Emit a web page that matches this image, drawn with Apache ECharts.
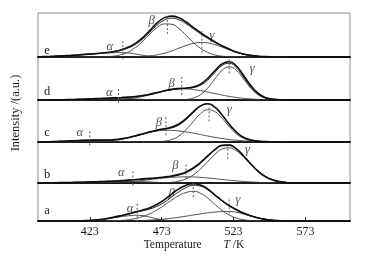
<!DOCTYPE html>
<html>
<head>
<meta charset="utf-8">
<script src="https://cdn.jsdelivr.net/npm/echarts@6/dist/echarts.min.js"></script>
<style>html,body{margin:0;padding:0;background:#fff}#main{width:372px;height:259px}</style>
</head>
<body>
<div id="main"></div>
<script>
// temperature grid (K) shared by all curves
var temps = [390,395,400,405,410,415,420,425,430,435,440,445,450,455,460,465,470,475,480,485,490,495,500,505,510,515,520,525,530,535,540,545,550,555,560];
var tickValues = [423, 473, 523, 573];

// panel e
var ePeaks = [446, 477, 501];
var eMeas  = [0.8,1.2,1.9,2.7,3.6,4.7,5.9,7.1,8.5,10.2,12.6,16.6,22.6,31.6,44.6,61.2,78.0,89.5,93.0,89.0,79.5,67.5,55.6,44.6,34.8,25.8,18.0,11.5,6.8,3.7,1.8,0.8,0.3,0.1,0];
var eFit   = [0.8,1.2,1.8,2.6,3.5,4.6,5.8,7.0,8.4,9.9,12.0,15.6,21.0,29.3,41.3,56.8,72.7,84.1,88.2,84.6,75.5,64.0,52.7,42.3,32.9,24.4,17.0,10.9,6.4,3.5,1.7,0.8,0.3,0.1,0];
var eAlpha = [0.8,1.2,1.8,2.6,3.5,4.6,5.8,7.0,8.1,9.1,9.7,10,9.2,6.7,3.8,1.6,0.6,0.1,0,0,0,0,0,0,0,0,0,0,0,0,0,0,0,0,0];
var eBeta  = [0,0,0,0,0,0,0,0,0.3,0.8,2.3,5.6,11.8,22.1,36.3,52.6,67.1,75.2,74.3,64.6,49.4,33.2,19.7,10.3,4.7,1.9,0.7,0.2,0,0,0,0,0,0,0];
var eGamma = [0,0,0,0,0,0,0,0,0,0,0,0,0,0.5,1.2,2.6,5.0,8.8,13.9,20.0,26.1,30.8,33.0,32.0,28.2,22.5,16.3,10.7,6.4,3.5,1.7,0.8,0.3,0.1,0];

// panel d
var dPeaks = [443, 487, 520];
var dMeas  = [0.1,0.2,0.4,0.7,1.0,1.5,2.1,2.8,3.4,4.2,5.0,5.8,6.8,8.2,10.4,13.6,17.5,21.5,24.8,26.8,28.0,30.4,37.0,50.0,68.0,84.0,89.0,79.0,57.0,33.5,15.8,6.0,2.0,0.6,0.2];
var dFit   = [0.1,0.2,0.4,0.7,1.0,1.5,2.1,2.8,3.4,4.1,4.9,5.6,6.5,7.8,9.9,13.0,16.9,20.9,24.2,26.1,27.1,28.8,34.3,46.3,64.0,80.4,85.4,74.7,52.7,30.1,13.9,5.3,1.7,0.5,0.2];
var dAlpha = [0.1,0.2,0.4,0.7,1.0,1.5,2.1,2.7,3.2,3.7,4.0,3.9,3.4,2.4,1.5,0.7,0.3,0.1,0,0,0,0,0,0,0,0,0,0,0,0,0,0,0,0,0];
var dBeta  = [0,0,0,0,0,0,0,0.1,0.2,0.4,0.9,1.7,3.1,5.4,8.4,12.3,16.6,20.8,24.1,25.8,25.8,24.3,21.8,18.6,15.1,11.6,8.4,5.9,3.8,2.4,1.4,0.8,0.4,0.2,0.1];
var dGamma = [0,0,0,0,0,0,0,0,0,0,0,0,0,0,0,0,0,0,0.1,0.3,1.3,4.5,12.5,27.7,48.9,68.8,77,68.8,48.9,27.7,12.5,4.5,1.3,0.3,0.1];

// panel c
var cPeaks = [423, 476, 506];
var cMeas  = [0.4,0.7,1.2,1.9,2.7,3.6,4.1,4.4,4.6,4.7,5.6,7.5,10.8,15.0,19.8,24.3,28.3,31.6,35.5,43.0,55.5,71.5,86.0,91.0,83.0,64.5,42.5,23.5,11.0,4.8,2.0,0.9,0.5,0.2,0.1];
var cFit   = [0.4,0.7,1.2,1.9,2.7,3.6,4.1,4.4,4.5,4.5,5.3,7.1,10.2,14.3,18.9,23.3,27.1,30.0,33.5,40.7,53.2,69.8,85.0,91.0,83.6,65.0,42.7,23.8,11.4,4.9,2.1,0.9,0.5,0.2,0.1];
var cAlpha = [0.4,0.7,1.2,1.9,2.7,3.5,3.9,3.9,3.4,2.4,1.5,0.7,0.3,0.1,0,0,0,0,0,0,0,0,0,0,0,0,0,0,0,0,0,0,0,0,0];
var cBeta  = [0,0,0,0,0,0.1,0.2,0.5,1.1,2.1,3.8,6.4,9.9,14.2,18.9,23.2,26.5,28.0,27.6,26.2,23.9,21.0,17.7,14.3,11.1,8.3,5.9,4.1,2.7,1.7,1.1,0.6,0.4,0.2,0.1];
var cGamma = [0,0,0,0,0,0,0,0,0,0,0,0,0,0,0,0.1,0.6,2.0,5.9,14.5,29.3,48.8,67.3,76.7,72.5,56.7,36.8,19.7,8.7,3.2,1.0,0.3,0.1,0,0];

// panel b
var bPeaks = [453, 490, 519];
var bMeas  = [0.4,0.5,0.7,1.0,1.3,1.7,2.1,2.7,3.3,4.0,4.8,5.9,7.1,8.6,10.0,11.3,12.9,14.6,17.2,21.0,27.0,36.5,50.0,66.0,81.5,91.8,92.5,83.0,66.0,46.5,29.0,16.0,7.9,3.5,1.3];
var bFit   = [0.4,0.5,0.7,1.0,1.3,1.6,2.0,2.6,3.1,3.8,4.6,5.6,6.8,8.2,9.5,10.7,12.2,13.7,16.0,19.4,25.2,34.5,48.0,64.5,80.5,91.3,92.7,83.6,66.8,47.3,29.6,16.4,8.1,3.6,1.4];
var bAlpha = [0.4,0.5,0.7,1.0,1.3,1.6,1.9,2.3,2.6,2.9,3.2,3.4,3.5,3.5,3.1,2.4,1.7,1.0,0.5,0.3,0.1,0,0,0,0,0,0,0,0,0,0,0,0,0,0];
var bBeta  = [0,0,0,0,0,0,0.1,0.3,0.5,0.9,1.4,2.2,3.3,4.7,6.4,8.3,10.3,12.1,13.7,14.6,15,14.7,13.8,12.3,10.6,8.7,6.9,5.2,3.7,2.6,1.7,1.1,0.7,0.4,0.2];
var bGamma = [0,0,0,0,0,0,0,0,0,0,0,0,0,0,0,0,0.2,0.6,1.8,4.5,10.1,19.8,34.2,52.2,69.9,82.6,85.8,78.4,63.1,44.7,27.9,15.3,7.4,3.2,1.2];

// panel a
var aPeaks = [456, 495, 520];
var aMeas  = [0,0,0,0.1,0.2,0.4,0.9,2.0,3.7,6.6,10.2,14.4,19.0,24.2,29.2,35.0,44.0,56.5,71.0,84.5,94.0,98.0,95.0,84.5,69.0,53.5,40.0,29.5,20.5,13.5,8.0,4.2,2.0,0.8,0.3];
var aFit   = [0,0,0,0.1,0.2,0.3,0.8,1.8,3.4,6.1,9.5,13.5,17.8,22.6,27.1,31.8,39.1,49.8,63.4,77.1,87.9,93.8,91.8,81.8,67.3,52.9,40.7,30.6,21.8,14.3,8.6,4.6,2.2,0.9,0.3];
var aAlpha = [0,0,0,0.1,0.2,0.3,0.8,1.8,3.3,5.7,8.5,11.5,13.8,15.0,13.8,10.0,5.7,2.5,0.8,0.3,0.1,0,0,0,0,0,0,0,0,0,0,0,0,0,0];
var aBeta  = [0,0,0,0,0,0,0,0,0.1,0.3,0.8,1.6,3.4,6.7,11.8,19.4,29.7,42.0,55.2,66.9,75.0,78.0,73.1,60.4,43.9,28.2,15.8,7.8,3.4,1.3,0.5,0.1,0,0,0];
var aGamma = [0,0,0,0,0,0,0,0,0,0.1,0.2,0.4,0.6,0.9,1.5,2.4,3.7,5.3,7.4,9.9,12.8,15.8,18.7,21.4,23.4,24.7,24.9,22.8,18.4,13.0,8.1,4.5,2.2,0.9,0.3];

var greek = ['α', 'β', 'γ'];

var chartDom = document.getElementById('main');
var myChart = echarts.init(chartDom);

var serif = '"Liberation Serif", "DejaVu Serif", serif';
var ink = '#1a1a1a';

var panels = [
  {name:'e', top:13,  height:44, meas:eMeas, fit:eFit, comps:[eAlpha,eBeta,eGamma], peaks:ePeaks,
   marks:[[-5,38],[52,97],[10,59]], labels:[[437,23],[466,82],[508,48]], letterY:51},
  {name:'d', top:57,  height:43, meas:dMeas, fit:dFit, comps:[dAlpha,dBeta,dGamma], peaks:dPeaks,
   marks:[[-7,25],[12,54],[62,96]], labels:[[436.6,18],[480,39],[536,73]], letterY:92},
  {name:'c', top:100, height:42, meas:cMeas, fit:cFit, comps:[cAlpha,cBeta,cGamma], peaks:cPeaks,
   marks:[[-8,28],[16,61],[49,93]], labels:[[416,22],[471,45],[520,77]], letterY:133},
  {name:'b', top:142, height:41, meas:bMeas, fit:bFit, comps:[bAlpha,bBeta,bGamma], peaks:bPeaks,
   marks:[[-6,28],[11,45],[59,96]], labels:[[445,24],[482.6,43],[532.7,80]], letterY:175},
  {name:'a', top:183, height:38, meas:aMeas, fit:aFit, comps:[aAlpha,aBeta,aGamma], peaks:aPeaks,
   marks:[[-2,46],[63,100],[20,63]], labels:[[451,33],[480,72],[526,55]], letterY:211}
];

function pairs(vals) {
  return temps.map(function (t, i) { return [t, vals[i]]; });
}

var grids = [], xAxes = [], yAxes = [], series = [], graphics = [];

panels.forEach(function (p, k) {
  var last = k === panels.length - 1;
  grids.push({left: 38, width: 312, top: p.top, height: p.height, show: true,
    borderColor: '#8c8c8c', borderWidth: 1});
  xAxes.push({
    gridIndex: k, type: 'value', min: 387, max: 604,
    axisLine: {onZero: false, lineStyle: {color: '#111', width: 2}},
    axisTick: {show: last, inside: true, length: 4, customValues: tickValues, lineStyle: {color: '#333'}},
    axisLabel: {show: last, customValues: tickValues, margin: 5, fontFamily: serif, fontSize: 12, color: ink},
    splitLine: {show: false},
    name: last ? 'Temperature{sp|}{it|T} /K' : '',
    nameLocation: 'middle', nameGap: 12,
    nameTextStyle: {fontFamily: serif, fontSize: 11.5, color: ink,
      rich: {sp: {width: 22}, it: {fontFamily: serif, fontSize: 11.5, fontStyle: 'italic', color: ink}}}
  });
  yAxes.push({gridIndex: k, type: 'value', min: 0, max: 100, show: false});

  p.comps.forEach(function (c) {
    series.push({type: 'line', xAxisIndex: k, yAxisIndex: k, data: pairs(c), smooth: true,
      symbol: 'none', silent: true, lineStyle: {color: '#3a3a3a', width: 0.9}});
  });
  series.push({type: 'line', xAxisIndex: k, yAxisIndex: k, data: pairs(p.fit), smooth: true,
    symbol: 'none', silent: true, lineStyle: {color: '#262626', width: 1}});
  series.push({type: 'line', xAxisIndex: k, yAxisIndex: k, data: pairs(p.meas), smooth: true,
    symbol: 'none', silent: true, lineStyle: {color: '#0d0d0d', width: 1.6}});

  // dashed peak markers
  p.peaks.forEach(function (t, i) {
    series.push({type: 'line', xAxisIndex: k, yAxisIndex: k, clip: false, silent: true,
      data: [[t, p.marks[i][0]], [t, p.marks[i][1]]], symbol: 'none',
      lineStyle: {color: '#555', width: 1, type: [2, 2]}});
  });

  // greek labels
  series.push({type: 'scatter', xAxisIndex: k, yAxisIndex: k, silent: true, symbolSize: 0,
    itemStyle: {color: 'rgba(0,0,0,0)'},
    data: p.labels.map(function (l, i) { return [l[0], l[1], greek[i]]; }),
    label: {show: true, position: 'inside', formatter: function (q) { return q.value[2]; },
      fontFamily: serif, fontStyle: 'italic', fontSize: 12.5, color: ink}});

  graphics.push({type: 'text', x: 47, y: p.letterY, silent: true,
    style: {text: p.name, font: '12.5px ' + serif, fill: ink, align: 'center', verticalAlign: 'middle'}});
});

graphics.push({type: 'text', x: 16, y: 113, rotation: Math.PI / 2, silent: true,
  style: {text: 'Intensity /(a.u.)', font: '12.5px ' + serif, fill: ink, align: 'center', verticalAlign: 'middle'}});

var option = {
  animation: false,
  grid: grids,
  xAxis: xAxes,
  yAxis: yAxes,
  series: series,
  graphic: graphics
};
myChart.setOption(option);
</script>
</body>
</html>
